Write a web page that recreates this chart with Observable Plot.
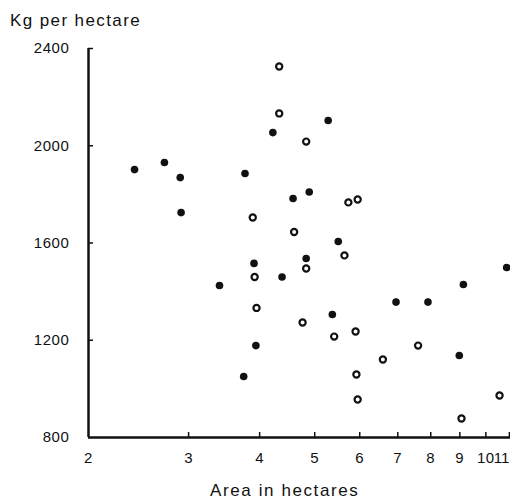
<!DOCTYPE html>
<html><head><meta charset="utf-8">
<script src="https://cdn.jsdelivr.net/npm/d3@7"></script>
<script src="https://cdn.jsdelivr.net/npm/@observablehq/plot@0.6"></script>
<style>
html,body{margin:0;padding:0;background:#fff;}
body{width:510px;font-family:"Liberation Sans",Arial,sans-serif;color:#111;}
#title{height:36px;padding-left:10px;font-size:17px;line-height:42px;letter-spacing:1.4px;}
#chart svg text{letter-spacing:0.6px;}
#chart svg g.last-label text{letter-spacing:0;}
#xlabel{padding-left:210px;padding-top:6px;font-size:17px;line-height:20px;letter-spacing:1.6px;}
</style></head><body>
<div id="title">Kg per hectare</div>
<div id="chart"></div>
<div id="xlabel">Area in hectares</div>
<script>
// Farm area (hectares) and yield (kg per hectare); kind: filled or open circle
const area = [2.41, 2.72, 2.90, 2.91, 3.40, 3.77, 3.75, 3.89, 3.91, 3.92, 3.95, 3.94,
  4.33, 4.33, 4.22, 4.38, 4.58, 4.60, 4.83, 4.89, 4.83, 4.83, 4.76,
  5.28, 5.37, 5.41, 5.50, 5.64, 5.73, 5.95, 5.90, 5.92, 5.95,
  6.59, 6.95, 7.60, 7.91, 8.98, 9.13, 9.06, 10.57, 10.88];
const kgPerHectare = [1902, 1931, 1869, 1725, 1425, 1886, 1051, 1705, 1516, 1460, 1333, 1178,
  2326, 2133, 2054, 1460, 1783, 1645, 2017, 1810, 1536, 1495, 1273,
  2104, 1306, 1215, 1606, 1549, 1767, 1779, 1236, 1059, 956,
  1121, 1357, 1178, 1357, 1137, 1429, 878, 973, 1499];
const kind = ["F","F","F","F","F","F","F","O","F","O","O","F",
  "O","O","F","F","F","O","O","F","F","O","O",
  "F","F","O","F","O","O","O","O","O","O",
  "O","F","O","F","F","F","O","O","F"];
const xTicks = [2, 3, 4, 5, 6, 7, 8, 9, 10, 11];
const yTicks = [800, 1200, 1600, 2000, 2400];

const points = area.map((a, i) => ({area: a, kg: kgPerHectare[i], kind: kind[i]}));
const lastX = xTicks[xTicks.length - 1];

const chart = Plot.plot({
  width: 510, height: 439,
  marginTop: 12, marginBottom: 38, marginLeft: 88, marginRight: 0,
  style: {fontFamily: "Liberation Sans, Arial, sans-serif", fontSize: "15px", color: "#111", background: "#fff", overflow: "visible"},
  x: {type: "log", domain: [2, 11.05]},
  y: {domain: [800, 2400]},
  marks: [
    Plot.text(xTicks.filter(d => d !== lastX), {x: d => d, text: d => String(d), frameAnchor: "bottom", lineAnchor: "top", dy: 15, fill: "#111"}),
    Plot.text([lastX], {x: d => d, text: d => String(d), frameAnchor: "bottom", lineAnchor: "top", dy: 15, dx: 0, textAnchor: "end", fill: "#111", className: "last-label"}),
    Plot.axisX(xTicks.slice(1), {tickSize: -5, tickFormat: () => "", label: null, strokeWidth: 1.5}),
    Plot.axisY(yTicks, {tickSize: 0, tickPadding: 19, tickFormat: d => String(d), label: null}),
    Plot.axisY(yTicks.slice(1), {tickSize: -5, tickFormat: () => "", label: null, strokeWidth: 1.5}),
    Plot.ruleY([800], {strokeWidth: 2.5, stroke: "#111"}),
    Plot.ruleX([2], {strokeWidth: 2.5, stroke: "#111"}),
    Plot.dot(points.filter(d => d.kind === "F"), {x: "area", y: "kg", r: 3.8, fill: "#111", stroke: "none"}),
    Plot.dot(points.filter(d => d.kind === "O"), {x: "area", y: "kg", r: 3.1, fill: "#fff", stroke: "#111", strokeWidth: 2.2})
  ]
});
document.getElementById("chart").appendChild(chart);
</script>
</body></html>
